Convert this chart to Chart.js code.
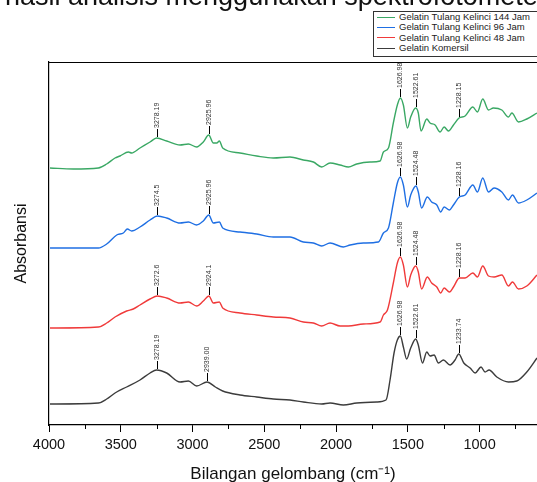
<!DOCTYPE html>
<html>
<head>
<meta charset="utf-8">
<script src="https://cdn.jsdelivr.net/npm/chart.js@4.4.1/dist/chart.umd.min.js"></script>
<style>
  html, body { margin: 0; padding: 0; background: #fff; overflow: hidden; }
  #wrap { position: relative; width: 537px; height: 482px; overflow: hidden; }
  #mycanvas { position: absolute; left: 0; top: 0; }
  #caption { position: absolute; left: 5px; top: -17px; font: 27px Arial, "Liberation Sans", sans-serif;
             line-height: 27px; white-space: nowrap; color: #111; }
  #legend { position: absolute; left: 373px; top: 11px; width: 180px; border: 1px solid #333;
            background: #fff; padding: 0 0 3px 0; font: 9.5px Arial, "Liberation Sans", sans-serif; color: #222; }
  #legend .row { height: 10.3px; line-height: 10.3px; display: flex; align-items: center; white-space: nowrap; }
  #legend .swatch { width: 18px; height: 0; border-top: 1.5px solid; margin: 0 4px 0 3px; }
</style>
</head>
<body>
<div id="wrap">
  <canvas id="mycanvas" width="537" height="482"></canvas>
  <div id="caption">hasil analisis menggunakan spektrofotometer</div>
  <div id="legend"></div>
</div>
<script>
// spectra: [wavenumber, absorbance (arbitrary, stacked)]
var gelatin144 = [[3993,2.57],[3831,2.56],[3656,2.57],[3598,2.61],[3540,2.67],[3505,2.69],[3447,2.73],[3424,2.72],
  [3366,2.77],[3296,2.83],[3250,2.87],[3180,2.84],[3087,2.80],[3029,2.81],[2971,2.78],[2925,2.83],[2887,2.90],
  [2855,2.82],[2831,2.82],[2813,2.84],[2790,2.77],[2669,2.72],[2553,2.69],[2437,2.67],[2321,2.68],[2228,2.65],
  [2158,2.63],[2100,2.58],[2042,2.62],[1972,2.60],[1914,2.58],[1856,2.61],[1763,2.63],[1693,2.64],[1670,2.73],
  [1635,2.77],[1601,3.02],[1573,3.20],[1552,3.27],[1531,3.20],[1503,2.97],[1480,3.08],[1445,3.17],[1427,3.12],
  [1408,2.94],[1368,3.06],[1345,3.02],[1310,3.00],[1275,2.93],[1247,2.98],[1217,2.94],[1182,3.00],[1143,3.07],
  [1101,3.09],[1047,3.18],[1015,3.13],[978,3.26],[938,3.15],[904,3.17],[845,3.15],[799,3.08],[775,3.12],
  [729,3.03],[671,3.06],[600,3.12]];

var gelatin96 = [[3993,1.77],[3831,1.77],[3656,1.77],[3598,1.81],[3528,1.90],[3482,1.92],[3454,1.96],[3424,1.94],
  [3366,1.98],[3296,2.05],[3245,2.09],[3180,2.07],[3087,2.02],[3029,2.03],[2971,2.00],[2925,2.04],[2887,2.10],
  [2855,2.02],[2813,2.03],[2790,1.97],[2669,1.93],[2553,1.91],[2437,1.88],[2321,1.88],[2228,1.83],[2158,1.82],
  [2100,1.79],[2042,1.82],[1949,1.78],[1902,1.80],[1810,1.82],[1705,1.83],[1670,1.92],[1635,1.97],[1601,2.22],
  [1573,2.42],[1552,2.48],[1531,2.40],[1503,2.18],[1480,2.30],[1443,2.39],[1427,2.33],[1404,2.17],[1364,2.28],
  [1334,2.23],[1298,2.20],[1271,2.13],[1247,2.18],[1210,2.15],[1182,2.20],[1141,2.28],[1101,2.30],[1047,2.40],
  [1015,2.33],[978,2.47],[938,2.33],[899,2.37],[845,2.33],[799,2.25],[771,2.30],[729,2.22],[671,2.25],[600,2.32]];

var gelatin48 = [[3993,0.97],[3656,0.98],[3598,1.02],[3540,1.08],[3459,1.14],[3413,1.16],[3366,1.20],[3296,1.26],
  [3245,1.29],[3180,1.27],[3087,1.22],[3029,1.23],[2971,1.19],[2925,1.24],[2886,1.29],[2855,1.22],[2813,1.23],
  [2790,1.17],[2669,1.12],[2553,1.10],[2437,1.08],[2321,1.07],[2228,1.03],[2158,1.02],[2100,0.99],[2042,1.02],
  [1972,0.99],[1914,0.99],[1810,1.01],[1693,1.03],[1670,1.10],[1642,1.15],[1601,1.42],[1573,1.62],[1552,1.68],
  [1531,1.60],[1503,1.38],[1480,1.50],[1445,1.59],[1427,1.53],[1404,1.36],[1364,1.48],[1334,1.42],[1298,1.38],
  [1271,1.32],[1247,1.37],[1210,1.33],[1182,1.38],[1141,1.47],[1101,1.47],[1047,1.52],[1015,1.48],[978,1.59],
  [938,1.49],[899,1.48],[845,1.50],[799,1.39],[771,1.43],[729,1.36],[671,1.39],[600,1.50]];

var gelatinKomersil = [[3993,0.21],[3656,0.22],[3598,0.26],[3540,0.32],[3459,0.38],[3366,0.45],[3296,0.52],
  [3250,0.55],[3180,0.52],[3087,0.43],[3029,0.44],[2971,0.39],[2899,0.43],[2841,0.38],[2790,0.34],[2669,0.30],
  [2553,0.28],[2437,0.26],[2321,0.25],[2228,0.23],[2100,0.21],[2042,0.22],[1949,0.20],[1856,0.22],[1717,0.23],
  [1652,0.25],[1624,0.45],[1596,0.72],[1573,0.85],[1552,0.89],[1531,0.78],[1508,0.66],[1480,0.77],[1445,0.86],
  [1427,0.80],[1398,0.62],[1368,0.73],[1345,0.69],[1317,0.70],[1287,0.62],[1252,0.65],[1206,0.60],[1171,0.65],
  [1145,0.71],[1110,0.62],[1066,0.57],[1031,0.52],[990,0.58],[962,0.53],[934,0.55],[880,0.48],[799,0.43],
  [741,0.44],[671,0.53],[600,0.67]];

// peak labels: [position on the axis, printed text]
var peaks144 = [[3250,'3278.19'],[2887,'2925.96'],[1552,'1626.98'],[1445,'1522.61'],[1143,'1228.15']];
var peaks96 = [[3245,'3274.5'],[2887,'2925.96'],[1552,'1626.98'],[1443,'1524.48'],[1141,'1228.16']];
var peaks48 = [[3245,'3272.6'],[2886,'2924.1'],[1552,'1626.98'],[1445,'1524.48'],[1141,'1228.16']];
var peaksKomersil = [[3250,'3278.19'],[2899,'2939.00'],[1552,'1626.98'],[1445,'1522.61'],[1145,'1233.74']];

var labels = ['Gelatin Tulang Kelinci 144 Jam', 'Gelatin Tulang Kelinci 96 Jam', 'Gelatin Tulang Kelinci 48 Jam', 'Gelatin Komersil'];
var colors = ['#3aa864', '#1f6fe3', '#f03a3a', '#3c3c3c'];

var xTicks = [4000, 3500, 3000, 2500, 2000, 1500, 1000];
var xMinorTicks = [3750, 3250, 2750, 2250, 1750, 1250, 750];

function toXY(arr) {
  return arr.map(function(p) { return {x: p[0], y: p[1]}; });
}

var series = [gelatin144, gelatin96, gelatin48, gelatinKomersil];
var peaks = [peaks144, peaks96, peaks48, peaksKomersil];

var datasets = series.map(function(s, i) {
  return {
    label: labels[i],
    data: toXY(s),
    peaks: peaks[i],
    borderColor: colors[i],
    borderWidth: 1.4,
    pointRadius: 0,
    cubicInterpolationMode: 'monotone',
    fill: false
  };
});

// legend as a plain box in the corner
var legendBox = document.getElementById('legend');
labels.forEach(function(l, i) {
  var row = document.createElement('div');
  row.className = 'row';
  row.innerHTML = '<span class="swatch" style="border-color:' + colors[i] + '"></span><span>' + l + '</span>';
  legendBox.appendChild(row);
});

var peakLabels = {
  id: 'peakLabels',
  afterDatasetsDraw: function(chart) {
    var ctx = chart.ctx;
    chart.data.datasets.forEach(function(ds, i) {
      var meta = chart.getDatasetMeta(i);
      (ds.peaks || []).forEach(function(pk) {
        var best = 0;
        ds.data.forEach(function(p, j) {
          if (Math.abs(p.x - pk[0]) < Math.abs(ds.data[best].x - pk[0])) best = j;
        });
        var pt = meta.data[best];
        var px = Math.round(pt.x) + 0.5;
        ctx.save();
        ctx.strokeStyle = '#000';
        ctx.lineWidth = 1;
        ctx.beginPath();
        ctx.moveTo(px, pt.y - 1);
        ctx.lineTo(px, pt.y - 9);
        ctx.stroke();
        ctx.translate(px, pt.y - 10);
        ctx.rotate(-Math.PI / 2);
        ctx.font = '7px Arial, "Liberation Sans", sans-serif';
        ctx.fillStyle = '#333';
        ctx.textAlign = 'left';
        ctx.textBaseline = 'middle';
        ctx.fillText(pk[1], 0, 0);
        ctx.restore();
      });
    });
  }
};

var frame = {
  id: 'frame',
  afterDraw: function(chart) {
    var a = chart.chartArea, ctx = chart.ctx, xs = chart.scales.x;
    ctx.save();
    ctx.strokeStyle = '#000';
    ctx.lineWidth = 1.2;
    ctx.beginPath();
    ctx.moveTo(a.left, a.top + 0.5);
    ctx.lineTo(a.right, a.top + 0.5);
    ctx.stroke();
    ctx.lineWidth = 1;
    xMinorTicks.forEach(function(v) {
      var x = Math.round(xs.getPixelForValue(v)) + 0.5;
      ctx.beginPath();
      ctx.moveTo(x, a.bottom);
      ctx.lineTo(x, a.bottom + 4);
      ctx.stroke();
    });
    ctx.restore();
  }
};

var ctx = document.getElementById('mycanvas');

var spectra = new Chart(ctx, {
  type: 'line',
  data: { datasets: datasets },
  options: {
    responsive: false,
    animation: false,
    layout: { padding: { top: 62, left: 0, right: 0, bottom: 0 } },
    plugins: {
      legend: { display: false },
      tooltip: { enabled: false }
    },
    scales: {
      x: {
        type: 'linear',
        reverse: true,
        min: 600,
        max: 4000,
        afterBuildTicks: function(scale) {
          scale.ticks = xTicks.map(function(v) { return {value: v}; });
        },
        afterFit: function(scale) { scale.height = 57; },
        ticks: {
          autoSkip: false,
          maxRotation: 0,
          padding: 4,
          color: '#111',
          callback: function(value) { return String(value); },
          font: { family: 'Arial, "Liberation Sans", sans-serif', size: 14.5 }
        },
        grid: { drawOnChartArea: false, tickLength: 7, tickColor: '#000', tickWidth: 1 },
        border: { color: '#000', width: 1.2 },
        title: {
          display: true,
          text: 'Bilangan gelombang (cm\u207B\u00B9)',
          color: '#111',
          padding: { top: 0, bottom: -3 },
          font: { family: 'Arial, "Liberation Sans", sans-serif', size: 17 }
        }
      },
      y: {
        min: 0,
        max: 3.63,
        afterFit: function(scale) { scale.width = 49; },
        ticks: { display: false },
        grid: { display: false },
        border: { color: '#000', width: 1.2 },
        title: {
          display: true,
          text: 'Absorbansi',
          color: '#111',
          padding: { top: 12, bottom: 0 },
          font: { family: 'Arial, "Liberation Sans", sans-serif', size: 16 }
        }
      }
    }
  },
  plugins: [peakLabels, frame]
});
</script>
</body>
</html>
